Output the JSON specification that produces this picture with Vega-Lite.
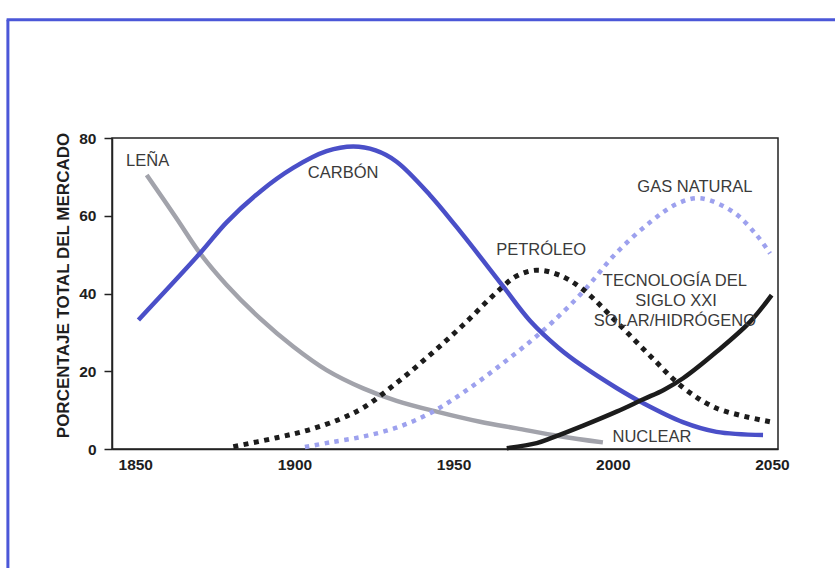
{
  "$schema": "https://vega.github.io/schema/vega-lite/v6.json",
  "width": 666,
  "height": 311,
  "autosize": "none",
  "padding": {"left": 112, "top": 138, "right": 57, "bottom": 119},
  "background": "white",
  "config": {
    "view": {"stroke": "#222", "strokeWidth": 1.5},
    "font": "Liberation Sans"
  },
  "datasets": {
    "curves": [
      {"serie": "Carbón", "year": 1851, "value": 33.2},
      {"serie": "Carbón", "year": 1870.4, "value": 50.4},
      {"serie": "Carbón", "year": 1878.7, "value": 58.3},
      {"serie": "Carbón", "year": 1889.2, "value": 66.2},
      {"serie": "Carbón", "year": 1899.6, "value": 72.3},
      {"serie": "Carbón", "year": 1910.1, "value": 76.6},
      {"serie": "Carbón", "year": 1918.5, "value": 77.8},
      {"serie": "Carbón", "year": 1925.5, "value": 76.8},
      {"serie": "Carbón", "year": 1932.1, "value": 73.9},
      {"serie": "Carbón", "year": 1942.6, "value": 65.3},
      {"serie": "Carbón", "year": 1953, "value": 55.0},
      {"serie": "Carbón", "year": 1965.4, "value": 42.0},
      {"serie": "Carbón", "year": 1974, "value": 33.0},
      {"serie": "Carbón", "year": 1983, "value": 26.0},
      {"serie": "Carbón", "year": 1990.6, "value": 21.3},
      {"serie": "Carbón", "year": 2001.2, "value": 15.7},
      {"serie": "Carbón", "year": 2009.5, "value": 11.8},
      {"serie": "Carbón", "year": 2022, "value": 6.9},
      {"serie": "Carbón", "year": 2032.6, "value": 4.4},
      {"serie": "Carbón", "year": 2047.2, "value": 3.6},
      {"serie": "Leña", "year": 1853.6, "value": 70.5},
      {"serie": "Leña", "year": 1863, "value": 59.3},
      {"serie": "Leña", "year": 1870.4, "value": 50.3},
      {"serie": "Leña", "year": 1878.7, "value": 42.2},
      {"serie": "Leña", "year": 1889.2, "value": 33.6},
      {"serie": "Leña", "year": 1899.7, "value": 26.3},
      {"serie": "Leña", "year": 1910.1, "value": 20.3},
      {"serie": "Leña", "year": 1921.6, "value": 15.6},
      {"serie": "Leña", "year": 1932.1, "value": 12.4},
      {"serie": "Leña", "year": 1944.7, "value": 9.6},
      {"serie": "Leña", "year": 1958.3, "value": 7.0},
      {"serie": "Leña", "year": 1969.8, "value": 5.3},
      {"serie": "Leña", "year": 1983.4, "value": 3.3},
      {"serie": "Leña", "year": 1996.9, "value": 1.7},
      {"serie": "Petróleo", "year": 1880.8, "value": 0.6},
      {"serie": "Petróleo", "year": 1894.4, "value": 2.9},
      {"serie": "Petróleo", "year": 1904.9, "value": 5.0},
      {"serie": "Petróleo", "year": 1914.3, "value": 7.7},
      {"serie": "Petróleo", "year": 1921.6, "value": 10.6},
      {"serie": "Petróleo", "year": 1932.1, "value": 17.0},
      {"serie": "Petróleo", "year": 1942.6, "value": 24.2},
      {"serie": "Petróleo", "year": 1953, "value": 31.9},
      {"serie": "Petróleo", "year": 1963.5, "value": 40.3},
      {"serie": "Petróleo", "year": 1969.8, "value": 44.5},
      {"serie": "Petróleo", "year": 1976.1, "value": 46.0},
      {"serie": "Petróleo", "year": 1983, "value": 44.8},
      {"serie": "Petróleo", "year": 1990.7, "value": 41.0},
      {"serie": "Petróleo", "year": 2001.2, "value": 32.7},
      {"serie": "Petróleo", "year": 2011.7, "value": 24.0},
      {"serie": "Petróleo", "year": 2022.1, "value": 15.8},
      {"serie": "Petróleo", "year": 2032.6, "value": 10.5},
      {"serie": "Petróleo", "year": 2049.4, "value": 7.0},
      {"serie": "Gas natural", "year": 1903.3, "value": 0.5},
      {"serie": "Gas natural", "year": 1911.2, "value": 1.7},
      {"serie": "Gas natural", "year": 1921.6, "value": 3.2},
      {"serie": "Gas natural", "year": 1932.1, "value": 5.5},
      {"serie": "Gas natural", "year": 1942.6, "value": 9.2},
      {"serie": "Gas natural", "year": 1953, "value": 14.5},
      {"serie": "Gas natural", "year": 1963.5, "value": 20.8},
      {"serie": "Gas natural", "year": 1974, "value": 27.6},
      {"serie": "Gas natural", "year": 1981, "value": 32.6},
      {"serie": "Gas natural", "year": 1990.7, "value": 40.5},
      {"serie": "Gas natural", "year": 2001.2, "value": 50.5},
      {"serie": "Gas natural", "year": 2011.7, "value": 58.3},
      {"serie": "Gas natural", "year": 2020, "value": 63.0},
      {"serie": "Gas natural", "year": 2027.4, "value": 64.5},
      {"serie": "Gas natural", "year": 2037.8, "value": 61.0},
      {"serie": "Gas natural", "year": 2045.2, "value": 55.0},
      {"serie": "Gas natural", "year": 2049.4, "value": 50.3},
      {"serie": "Tecnología", "year": 1966.7, "value": 0.2},
      {"serie": "Tecnología", "year": 1976.1, "value": 1.5},
      {"serie": "Tecnología", "year": 1981, "value": 2.9},
      {"serie": "Tecnología", "year": 1990.7, "value": 6.0},
      {"serie": "Tecnología", "year": 2001.2, "value": 9.6},
      {"serie": "Tecnología", "year": 2009.6, "value": 12.8},
      {"serie": "Tecnología", "year": 2016, "value": 15.2},
      {"serie": "Tecnología", "year": 2022.1, "value": 18.2},
      {"serie": "Tecnología", "year": 2032.6, "value": 25.0},
      {"serie": "Tecnología", "year": 2043.1, "value": 32.7},
      {"serie": "Tecnología", "year": 2049.9, "value": 39.6}
    ],
    "labels": [
      {"label": "LEÑA", "year": 1853.9, "value": 74.2},
      {"label": "CARBÓN", "year": 1915.3, "value": 71.0},
      {"label": "PETRÓLEO", "year": 1977.5, "value": 51.2},
      {"label": "GAS NATURAL", "year": 2025.8, "value": 67.4},
      {"label": "TECNOLOGÍA DEL", "year": 2019.5, "value": 43.3},
      {"label": "SIGLO XXI", "year": 2019.9, "value": 38.1},
      {"label": "SOLAR/HIDRÓGENO", "year": 2019.5, "value": 33.0},
      {"label": "NUCLEAR", "year": 2012.3, "value": 3.1}
    ]
  },
  "layer": [
    {
      "data": {"name": "curves"},
      "transform": [{"filter": "datum.serie === 'Leña'"}],
      "mark": {"type": "line", "interpolate": "catmull-rom", "color": "#a2a3ab", "strokeWidth": 4.5},
      "encoding": {
        "x": {
          "field": "year",
          "type": "quantitative",
          "scale": {"domain": [1842.7, 2051.9], "nice": false, "zero": false},
          "axis": {
            "values": [1850, 1900, 1950, 2000, 2050],
            "format": "d",
            "title": null,
            "grid": false,
            "ticks": false,
            "tickSize": 0,
            "domainColor": "#222",
            "domainWidth": 1.5,
            "labelFont": "Liberation Sans",
            "labelFontWeight": "bold",
            "labelFontSize": 15.5,
            "labelColor": "#1e1e1e",
            "labelPadding": 8
          }
        },
        "y": {
          "field": "value",
          "type": "quantitative",
          "scale": {"domain": [0, 80], "nice": false},
          "axis": {
            "values": [0, 20, 40, 60, 80],
            "title": "PORCENTAJE TOTAL DEL MERCADO",
            "titleFont": "Liberation Sans",
            "titleFontWeight": "bold",
            "titleFontSize": 17,
            "titleColor": "#1e1e1e",
            "titlePadding": 6,
            "titleY": 147,
            "grid": false,
            "tickSize": 8,
            "tickWidth": 1.5,
            "tickColor": "#222",
            "domainColor": "#222",
            "domainWidth": 1.5,
            "labelFont": "Liberation Sans",
            "labelFontWeight": "bold",
            "labelFontSize": 15.5,
            "labelColor": "#1e1e1e",
            "labelPadding": 8
          }
        }
      }
    },
    {
      "data": {"name": "curves"},
      "transform": [{"filter": "datum.serie === 'Gas natural'"}],
      "mark": {"type": "line", "interpolate": "catmull-rom", "color": "#9da1ee", "strokeWidth": 4.5, "strokeDash": [4.5, 5.5], "strokeCap": "butt"},
      "encoding": {"x": {"field": "year", "type": "quantitative"}, "y": {"field": "value", "type": "quantitative"}}
    },
    {
      "data": {"name": "curves"},
      "transform": [{"filter": "datum.serie === 'Petróleo'"}],
      "mark": {"type": "line", "interpolate": "catmull-rom", "color": "#1c1c1c", "strokeWidth": 5, "strokeDash": [5, 5.5], "strokeCap": "butt"},
      "encoding": {"x": {"field": "year", "type": "quantitative"}, "y": {"field": "value", "type": "quantitative"}}
    },
    {
      "data": {"name": "curves"},
      "transform": [{"filter": "datum.serie === 'Carbón'"}],
      "mark": {"type": "line", "interpolate": "catmull-rom", "color": "#4a4fc8", "strokeWidth": 4.5},
      "encoding": {"x": {"field": "year", "type": "quantitative"}, "y": {"field": "value", "type": "quantitative"}}
    },
    {
      "data": {"name": "curves"},
      "transform": [{"filter": "datum.serie === 'Tecnología'"}],
      "mark": {"type": "line", "interpolate": "catmull-rom", "color": "#1c1c1c", "strokeWidth": 4.5},
      "encoding": {"x": {"field": "year", "type": "quantitative"}, "y": {"field": "value", "type": "quantitative"}}
    },
    {
      "data": {"name": "labels"},
      "mark": {"type": "text", "font": "Liberation Sans", "fontSize": 16.5, "letterSpacing": 1.9, "color": "#3a3a3a", "align": "center", "baseline": "middle"},
      "encoding": {"x": {"field": "year", "type": "quantitative"}, "y": {"field": "value", "type": "quantitative"}, "text": {"field": "label"}}
    },
    {
      "data": {"values": [{}]},
      "mark": {"type": "rule", "color": "#4b57d8", "strokeWidth": 3, "clip": false},
      "encoding": {
        "x": {"datum": 1810, "type": "quantitative"},
        "y": {"datum": 110.4, "type": "quantitative"},
        "y2": {"datum": -40}
      }
    },
    {
      "data": {"values": [{}]},
      "mark": {"type": "rule", "color": "#4b57d8", "strokeWidth": 3, "clip": false},
      "encoding": {
        "x": {"datum": 1809.6, "type": "quantitative"},
        "x2": {"datum": 2080},
        "y": {"datum": 110.4, "type": "quantitative"}
      }
    }
  ]
}
